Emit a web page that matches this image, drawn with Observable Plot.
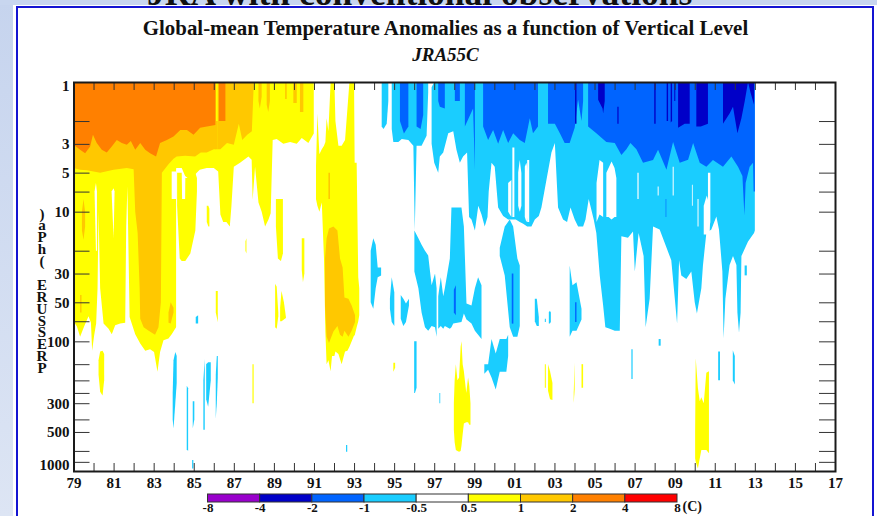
<!DOCTYPE html>
<html><head><meta charset="utf-8">
<script src="https://cdn.jsdelivr.net/npm/d3@7"></script>
<script src="https://cdn.jsdelivr.net/npm/@observablehq/plot@0.6"></script>
<style>
html,body{margin:0;padding:0;width:877px;height:516px;overflow:hidden;background:#fff}
body{position:relative;font-family:"Liberation Serif",serif;color:#111}
#bg{position:absolute;inset:0;background:linear-gradient(180deg,#c6d4ee 0%,#dde5f4 100%)}
#slide{position:absolute;left:13px;top:5px;width:864px;height:511px;background:#fff}
#top{position:absolute;left:0;top:0;width:877px;height:5px;background:#c8d6ef;overflow:hidden}
#headline{position:absolute;left:147px;top:-25px;font-weight:bold;font-size:35.5px;white-space:nowrap;line-height:36px;color:#111}
#panel{position:absolute;left:16px;top:6px;width:854px;height:512px;background:#fff;border:2px solid #1414d2;box-sizing:content-box}
#title{position:absolute;left:0;width:877px;padding-left:14px;box-sizing:border-box;top:17px;text-align:center;font-weight:bold;font-size:20.9px;line-height:22px;white-space:nowrap}
#subtitle{position:absolute;left:0;width:877px;padding-left:14px;box-sizing:border-box;top:45px;text-align:center;font-weight:bold;font-style:italic;font-size:19px;line-height:20px}
#chart{position:absolute;left:0;top:0}
#legend{position:absolute;left:190px;top:490px}
#ylabel{position:absolute;left:34px;top:207px;width:16px;height:168px;display:flex;flex-direction:column-reverse;align-items:center;font-weight:bold;font-size:15px;line-height:11.9px}
#ylabel span{display:block;height:11.9px}
</style></head><body>
<div id="bg"></div><div id="slide"></div><div id="top"><div id="headline">JRA with conventional observations</div></div>
<div id="panel"></div>
<div id="title">Global-mean Temperature Anomalies as a function of Vertical Level</div>
<div id="subtitle">JRA55C</div>
<div id="chart"></div><div id="legend"></div><div id="ylabel"></div>
<script>
// Years are given as years since 1900; each shape row is [year, top hPa, bottom hPa]
const yearTicks = d3.range(79, 118);
const yearLabels = d3.range(79, 118, 2);
const pressureTicks = [1,2,3,5,7,10,20,30,50,70,100,150,200,250,300,400,500,700,850,1000];
const pressureLabels = [3,5,10,30,50,100,300,500];
const legendColors = ["#9900cc","#0000c8","#0064ff","#1acdff","#ffffff","#ffff00","#ffc800","#ff8000","#ff0000"];
const legendValues = ["-8","-4","-2","-1","-0.5","0.5","1","2","4","8"];
const axisLetters = "PRESSURE (hPa)".split("");

const yellowShapes = [
 [[79,1,70],[79.17,1,77],[79.33,1,92],[79.53,1,77],[79.75,1,64],[79.87,1,72],[79.93,1,118],[80.03,1,90],[80.13,1,73],[80.2,1,39],[80.25,1,10],[80.33,1,39],[80.5,1,73],[80.75,1,80],[80.91,1,88],[81.08,1,75],[81.33,1,73],[81.58,1,72],[81.63,1,13],[81.69,1,6.4],[81.8,1,65],[82.08,1,88],[82.33,1,104],[82.58,1,118],[82.82,1,115],[83.02,1,121],[83.19,1,172],[83.32,1,121],[83.49,1,98],[83.74,1,95],[83.9,1,88],[84.12,1,78]],
 [[83.9,1,4.8],[84.15,1,4.6],[84.4,1,4.6],[84.57,1,5.3],[84.82,1,5.7],[85.15,1,5],[85.3,1,4.75],[85.65,1,4.6],[86,1,4.6],[86.22,1,4.9],[86.33,1,10.5],[86.47,1,12],[86.63,1,12],[86.8,1,13],[86.88,1,9.1],[87,1,4.5],[87.31,1,4.2],[87.73,1,3.75],[87.89,1,3.98],[87.94,1,8.1],[88.06,1,4.5],[88.23,1,8.5],[88.39,1,10],[88.56,1,13],[88.73,1,11.5],[88.84,1,10.3],[88.94,1,2.8],[89.14,1,2.75],[89.47,1,3],[89.81,1,2.9],[90.14,1,3],[90.39,1,2.7],[90.72,1,2.95],[90.99,1,2.5]],
 [[84.17,5,9],[84.3,5,23],[84.4,5,24],[84.42,8,24],[84.57,8,24],[84.58,5.5,24],[84.83,5.5,21],[85.08,5,14],[85.16,5.5,7]],
 [[89.1,8,13],[89.2,8,23],[89.35,8,24],[89.45,8,21]],
 [[85.65,9,12],[85.73,9,13],[85.78,9.5,13]],
 [[87.58,17,20],[87.63,16,21]],
 [[80.25,140,180],[80.33,120,245],[80.45,118,262],[80.53,125,200]],
 [[86.1,41,60],[86.2,41,71]],
 [[87.93,150,300],[87.99,150,300]],
 [[89.06,36,78],[89.14,38,80],[89.22,60,64]],
 [[89.31,55,70],[89.38,41,70],[89.5,50,68],[89.6,65,66]],
 [[90.39,16,28],[90.45,16,35],[90.52,16,30]],
 [[94.96,146,172],[95.05,146,160]],
 [[97.98,300,480],[98.02,200,600],[98.08,150,690],[98.16,200,700],[98.24,190,710],[98.32,110,700],[98.36,100,640],[98.42,150,520],[98.48,170,430],[98.6,250,420],[98.69,190,420],[98.75,220,440],[98.81,300,440]],
 [[102.52,150,228],[102.57,150,228]],
 [[102.68,150,240],[102.78,170,280],[102.9,210,283]],
 [[103.96,250,300],[104.01,145,235]],
 [[104.35,150,228],[104.43,150,228]],
 [[110.02,500,800],[110.05,135,850],[110.16,230,955],[110.25,290,800],[110.33,270,690],[110.45,300,690],[110.58,175,690],[110.71,170,730]],
 [[91.1,4.5,8],[91.17,1.75,9],[91.27,3.6,10],[91.39,3.3,8.5],[91.5,3.1,23],[91.57,2.9,85],[91.63,1.9,150],[91.72,2.4,140],[91.83,1,170],[91.9,1,130],[92.02,1,130],[92.07,2,120],[92.22,3.1,125],[92.38,3.1,150],[92.55,2.8,120],[92.67,1.6,118],[92.77,1,110],[93,1,90],[93.03,4.2,90],[93.13,4.2,78],[93.21,32,70],[93.26,39,63]]
];
const cyanShapes = [
 [[94.38,1,2.2],[94.47,1,2.3],[94.63,1,2.1],[94.71,1,1.4]],
 [[94.88,1,2.3],[94.96,1,2.9],[95.21,1,2.9],[95.38,1,2.75],[95.71,1,2.8],[95.96,1,3.1],[96.03,1,14],[96.12,1,3.1],[96.37,1,3.1],[96.62,1,2.6],[96.7,1,1.2]],
 [[96.87,1.1,3],[97,1,4.2],[97.2,1,5],[97.28,1,3.75],[97.45,1,3.5],[97.7,1,2.48],[97.95,1,2.4],[98.11,1,3.33],[98.28,1,4.2],[98.44,1,3.75],[98.64,1,3.5],[98.74,1,11],[98.86,1,11.5],[99.03,1,14],[99.2,1,9],[99.36,1,10.5],[99.52,1,13],[99.66,1,11],[99.72,1,7],[99.86,1,4.2],[100.02,1,4.5],[100.19,1,9.3],[100.44,1,10.8],[100.69,1,11.5],[100.85,1,11.5],[101.07,1,11.5],[101.27,1,12],[101.44,1,12.4],[101.64,1,13],[101.85,1,13],[102.02,1,11.5],[102.22,1,10.8],[102.35,1,9.3],[102.6,1,5.7],[102.85,1,3.5],[103.02,1,2.96],[103.18,1,9.3],[103.43,1,11.5],[103.63,1,12],[103.8,1,9.3],[104.01,1,11.5],[104.18,1,13],[104.43,1,13],[104.55,1,11.5],[104.71,1,8],[104.96,1,11.5],[105.09,1,14.6],[105.26,1,31],[105.43,1,53],[105.54,1,78],[105.76,1,80],[106.01,1,83],[106.26,1,83],[106.34,1,15.5],[106.67,1,15.9],[106.92,1,14.2],[107.01,1,29],[107.2,1,14.6],[107.45,1,22],[107.55,1,78],[107.75,1,47],[107.92,1,13],[108.25,1,13.7],[108.5,1,17.4],[108.83,1,23.7],[109.12,1,73],[109.22,1,23.7],[109.33,1,31],[109.58,1,33],[109.83,1,29],[110,1,50],[110.11,1,61],[110.33,1,39],[110.41,1,26],[110.58,1,14.6],[110.83,1,13.7],[111.08,1,10.9],[111.21,1,13.7],[111.38,1,29],[111.44,1,95],[111.53,1,47],[111.74,1,25.8],[111.91,1,22],[112.08,1,25.8],[112.13,1,60],[112.21,1,86],[112.29,1,60],[112.33,1,22],[112.66,1,17],[112.96,1,14.6],[113,1,14]],
 [[97.2,45,80],[97.33,32,76],[97.45,45,80],[97.53,39,76],[97.78,23,80],[97.86,9.3,78],[97.95,9.3,73],[98.36,9.3,71],[98.48,13,61],[98.61,51,68],[98.86,53,73],[99.03,39,83],[99.19,32,89],[99.36,37,96]],
 [[96.01,14,29],[96.21,16,39],[96.37,18,60],[96.54,20,78],[96.7,21.8,83],[96.87,37,76],[97.04,30,78],[97.12,39,92]],
 [[93.83,20,50],[93.96,16,56],[94.08,18,39],[94.18,27,32],[94.35,27,31]],
 [[94.79,47,56],[94.88,32,71],[95.01,42,76]],
 [[95.33,44,67],[95.46,47,76],[95.59,51,71],[95.74,47,53]],
 [[96,100,250],[96.04,100,250],[96.12,100,228]],
 [[97.26,250,300],[97.3,250,300]],
 [[83.95,250,400],[83.99,140,470],[84.08,121,300],[84.15,130,210]],
 [[84.65,220,680],[84.72,230,700]],
 [[84.95,290,470],[85.03,290,400]],
 [[85.48,200,480],[85.55,136,480]],
 [[85.62,150,280],[85.72,145,320],[85.85,145,200]],
 [[86.1,180,394],[86.15,130,300],[86.2,130,190]],
 [[92.6,631,710],[92.66,631,710]],
 [[84.92,822,955],[84.98,822,955]],
 [[85.1,65,73],[85.22,63,73]],
 [[99.5,150,178],[99.69,150,166],[99.86,96,190],[100.07,124,235],[100.27,96,172],[100.6,96,172],[100.69,89,130]],
 [[100.27,19,22],[100.52,13,31],[100.77,11.5,78],[100.94,13,92],[101.15,23,92],[101.27,26,76]],
 [[102.02,47,70],[102.12,47,76],[102.22,65,76]],
 [[102.52,67,71],[102.57,67,71]],
 [[102.72,60,73],[102.77,58,73],[102.82,60,71]],
 [[103.76,26,92],[103.9,37,83],[104.1,35,83],[104.35,56,68]],
 [[106.84,115,195],[106.9,115,195]],
 [[108.2,96,108],[108.3,96,108]],
 [[111.17,120,200],[111.26,120,200]],
 [[111.9,117,200],[112,130,215]],
 [[112.49,26,31],[112.6,26,31]]
];
const whiteShapes = [
 [[80.9,7,7],[81,6.6,16],[81.05,7,7]],
 [[80.05,7,7],[80.12,6,20],[80.17,7,20]],
 [[83.9,4.9,8],[84.13,4.9,8]],
 [[105.1,6,12],[105.25,4,10.5],[105.43,4.2,11]],
 [[105.59,5,11],[105.7,4.6,11],[105.85,4.1,11.5],[106,4.6,11],[106.09,5.5,11]],
 [[100.9,3.2,11],[101,3.2,11]],
 [[101.64,4,12],[101.74,4,12]],
 [[101.19,5,9],[101.27,4,10],[101.35,5,9]],
 [[101.52,4.5,11],[101.6,4.2,12],[101.69,5,11]],
 [[100.69,6,10],[100.85,5.7,11]],
 [[107.14,5,8],[107.2,5,8]],
 [[108.15,6.4,7.5],[108.2,6.4,7.5]],
 [[108.9,4.5,7.5],[108.95,4.5,7.5]],
 [[109.86,6.2,9],[109.9,6.2,9]],
 [[110.14,8,13],[110.19,8,13]],
 [[110.66,5,14],[110.72,5,13.7],[110.78,5,12]],
 [[110.45,9,15],[110.6,7.5,15],[110.75,9,15]]
];
const amberShapes = [
 [[79,1,4.6],[79.33,1,4.75],[79.67,1,4.8],[80.33,1,5],[81,1,4.75],[81.66,1,4.6],[82,1,4.7],[82.08,1,10],[82.2,1,14.6],[82.3,1,39],[82.33,1,67],[82.5,1,78],[82.75,1,83],[83.07,1,89],[83.24,1,78],[83.36,1,50],[83.41,1,5],[83.74,1,4.3],[83.99,1,3.9],[84.15,1,3.75],[84.57,1,3.7],[85.07,1,3.75],[85.35,1,3.5],[85.65,1,3.5],[86,1,3.3],[86.11,1,3.3]],
 [[86.08,2,3.3],[86.2,2,3.3]],
 [[86.2,1,3.3],[86.33,1,3.3],[86.66,1,2.95],[87,1,3.05],[87.25,1,2.1],[87.42,1,2.8],[87.67,1,2.55],[87.9,1,2.4],[88,1,1]],
 [[79.42,10,14],[79.5,8,16.5],[79.58,10,13]],
 [[79.33,44,60],[79.4,44,60]],
 [[88.23,1,1.4],[88.3,1,1.6],[88.39,1,1.3]],
 [[88.64,1,1.5],[88.72,1,1.7],[88.8,1,1.4]],
 [[89.56,1,1.35],[89.64,1,1.35]],
 [[89.97,1,1.45],[90.14,1,1.45]],
 [[90.3,1,1.7],[90.47,1,1.7]],
 [[91.72,5,8],[91.8,5,8]],
 [[83.74,60,72],[83.85,50,73],[83.99,55,60]],
 [[91.55,23,53],[91.63,16,92],[91.75,13.5,103],[91.97,13,84],[92.17,14,76],[92.3,23,89],[92.43,27,92],[92.52,46,83],[92.72,47,92],[92.88,53,83],[93.05,63,71]]
];
const orangeShapes = [
 [[79,1,3.05],[79.33,1,3.33],[79.58,1,3.55],[79.83,1,3.14],[79.97,1,2.55],[80.16,1,2.95],[80.41,1,3.33],[80.66,1,3.5],[80.91,1,3.14],[81.16,1,2.8],[81.41,1,2.96],[81.66,1,3.05],[81.86,1,2.85],[82.08,1,3.33],[82.33,1,2.96],[82.58,1,3.33],[82.82,1,3.55],[83.12,1,3.75],[83.32,1,2.96],[83.66,1,2.8],[83.99,1,2.63],[84.33,1,2.34],[84.66,1,2.34],[84.99,1,2.55],[85.32,1,2.25],[85.66,1,2.2],[86.08,1,2.15]],
 [[86.25,1,2],[86.58,1,2]]
];
const blueShapes = [
 [[95.29,1,2],[95.49,1,2.5],[95.71,1,2.2]],
 [[96.12,1,2.2],[96.32,1,2.3],[96.45,1,1.8]],
 [[97.2,1,1.4],[97.28,1,1.55],[97.53,1,1.6]],
 [[98.03,1,1.4],[98.28,1,1.4]],
 [[98.53,1,2.2],[98.94,1,1.6],[99.03,1,4.75]],
 [[99.44,1,2.2],[99.69,1,2.8],[99.94,1,2.34],[100.19,1,3],[100.44,1,2.34],[100.69,1,2.96],[100.94,1,2.48],[101.27,1,2.8],[101.52,1,2.96],[101.77,1,1.9],[101.93,1,2.48],[102.18,1,2.2]],
 [[102.68,1,2.1],[103.02,1,2.1],[103.27,1,2.48],[103.51,1,2.96],[103.76,1,2.96],[104.01,1,2.25],[104.18,1,1.37],[104.35,1,2],[104.43,1,1.4]],
 [[104.68,1,2.2],[105.09,1,2.48],[105.59,1,2.9],[106.01,1,2.96],[106.34,1,3.65],[106.59,1,3.3],[106.79,1,2.96],[107.09,1,3.3],[107.42,1,4.2],[107.92,1,4],[108.17,1,3.33],[108.59,1,4.75],[108.92,1,2.9],[109.25,1,4.2],[109.67,1,3.98],[109.92,1,2.96],[110.25,1,4.2],[110.58,1,4.5],[110.91,1,4],[111.41,1,4.5],[111.83,1,3.75],[112.16,1,4.5],[112.38,1,5.3],[112.48,1,10.7],[112.54,1,6],[112.74,1,4.5],[112.91,1,4.2],[112.94,1,7],[113,1,7]],
 [[108.55,8,11],[108.58,8,11]],
 [[97.98,40,60],[98.08,37,63]],
 [[100.87,30,73],[100.95,30,73]],
 [[104.03,50,71],[104.1,50,71]]
];
const darkBlueShapes = [
 [[104.03,1,2.1],[104.1,1,2.1]],
 [[105.18,1,1.37],[105.4,1,1.6],[105.43,1,1.75],[105.51,1,1.4]],
 [[106.14,1.55,2.1],[106.2,1.55,2.1]],
 [[107.98,1,2.1],[108.05,1,2.1]],
 [[108.6,1,2],[108.67,1,2]],
 [[108.8,1,2.05],[108.87,1,2]],
 [[108.98,1,1.4],[109.03,1,1.4]],
 [[109.17,1,2.25],[109.5,1,2.1],[109.75,1,2.1]],
 [[110.08,1,2.2],[110.3,1,2.2],[110.66,1,2.1]],
 [[111.41,1,2.1],[111.74,1,1.75],[111.91,1,1.55],[112.13,1,2.48],[112.33,1,1.9],[112.49,1,1.42],[112.66,1,1],[112.78,1,1.2],[112.96,1,1.5]]
];

const layers = [[yellowShapes,"#ffff00"],[cyanShapes,"#1acdff"],[whiteShapes,"#ffffff"],[amberShapes,"#ffc800"],[orangeShapes,"#ff8000"],[blueShapes,"#0064ff"],[darkBlueShapes,"#0000c8"]];
const bandMarks = layers.flatMap(([shapes,color]) => shapes.map(s =>
  Plot.areaY(s,{x:d=>d[0],y1:d=>d[1],y2:d=>d[2],fill:color,curve:"linear",clip:true})));

const W=877,H=516,ML=73.5,MR=42,MT=82,MB=45;
const fw=W-ML-MR,fh=H-MT-MB;
const yy=d=>String(d%100).padStart(2,"0");
const chart = Plot.plot({
  width:W,height:H,marginLeft:ML,marginRight:MR,marginTop:MT,marginBottom:MB,
  style:{background:"transparent",fontFamily:"'Liberation Serif',serif",fontWeight:"bold",fontSize:"15px",color:"#111"},
  x:{domain:[79,117],axis:null},
  y:{type:"log",domain:[1,1000],reverse:true,axis:null},
  marks:[
    ...bandMarks,
    Plot.ruleX(yearTicks,{stroke:"#333",insetBottom:fh-8}),
    Plot.ruleX(yearTicks,{stroke:"#333",insetTop:fh-8}),
    Plot.ruleY(pressureTicks,{stroke:"#333",insetRight:fw-16}),
    Plot.ruleY(pressureTicks,{stroke:"#333",insetLeft:fw-16}),
    Plot.frame({stroke:"#1a1a1a",strokeWidth:2}),
    Plot.axisX({ticks:yearLabels,tickSize:0,tickPadding:6,tickFormat:yy,fontSize:15,label:null}),
    Plot.text(pressureLabels,{x:()=>79,y:d=>d,text:d=>String(d),dx:-4.5,textAnchor:"end",fontSize:15}),
    Plot.text([1],{x:()=>79,y:d=>d,text:d=>String(d),dx:-4.5,dy:4,textAnchor:"end",fontSize:15}),
    Plot.text([1000],{x:()=>79,y:d=>d,text:d=>String(d),dx:-4.5,dy:-6,textAnchor:"end",fontSize:15})
  ]
});
document.getElementById("chart").append(chart);

const legend = Plot.plot({
  width:520,height:26,marginLeft:17.5,marginRight:33,marginTop:4,marginBottom:14,
  style:{background:"transparent",fontFamily:"'Liberation Serif',serif",fontWeight:"bold",fontSize:"13px",color:"#111",overflow:"visible"},
  x:{domain:[0,9],axis:null},y:{domain:[0,1],axis:null},
  marks:[
    Plot.rect(legendColors,{x1:(d,i)=>i,x2:(d,i)=>i+1,y1:()=>0,y2:()=>1,fill:d=>d,stroke:"#333",strokeWidth:1}),
    Plot.text(legendValues,{x:(d,i)=>i,y:()=>0,dy:5,fontSize:13}),
    Plot.text(["(C)"],{x:()=>9,y:()=>0,dy:4,dx:5,textAnchor:"start",fontSize:14})
  ]
});
document.getElementById("legend").append(legend);
const yl=document.getElementById("ylabel");
axisLetters.forEach(c=>{const s=document.createElement("span");s.textContent=c===" "?"\u00a0":c;yl.append(s);});
</script></body></html>
